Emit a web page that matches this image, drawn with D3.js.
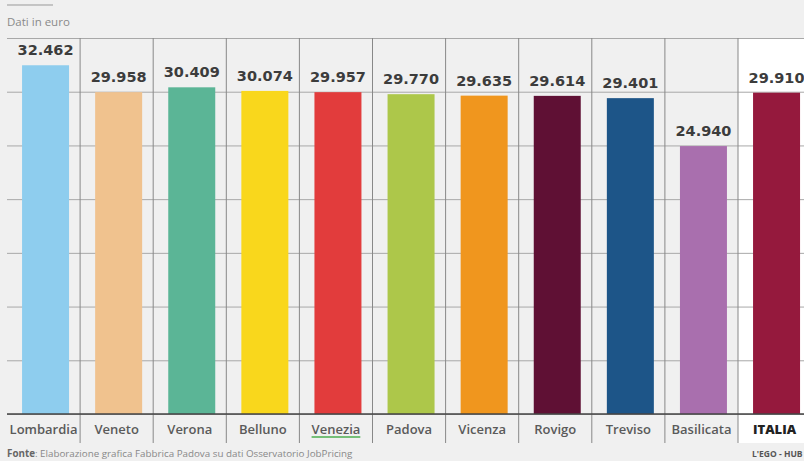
<!DOCTYPE html>
<html>
<head>
<meta charset="utf-8">
<script src="https://cdn.jsdelivr.net/npm/d3@7"></script>
<style>
  body { margin: 0; background: #f0f0f0; }
  svg { display: block; }
</style>
</head>
<body>
<div id="chart"></div>
<script>
// Data
const categories = ["Lombardia", "Veneto", "Verona", "Belluno", "Venezia", "Padova",
                    "Vicenza", "Rovigo", "Treviso", "Basilicata", "ITALIA"];
const values = [32462, 29958, 30409, 30074, 29957, 29770, 29635, 29614, 29401, 24940, 29910];
const colors = ["#8ecdee", "#f0c28e", "#5bb596", "#f9d71c", "#e23c3c", "#adc74a",
                "#f0961e", "#5f1034", "#1d5588", "#a96fae", "#95193d"];
const gridTicks = [0, 5000, 10000, 15000, 20000, 25000, 30000, 35000];

const data = categories.map((c, i) => ({ name: c, value: values[i], color: colors[i] }));

const W = 804, H = 461;
const chartLeft = 7, chartTop = 38, baseline = 414;
const step = 73.1;

const svg = d3.select("#chart").append("svg")
    .attr("width", W)
    .attr("height", H);

svg.append("rect").attr("width", W).attr("height", H).attr("fill", "#f0f0f0");

// Columns
const x = d3.scaleBand()
    .domain(categories)
    .range([chartLeft, chartLeft + step * categories.length])
    .padding(0);

const y = d3.scaleLinear()
    .domain([0, 35000])
    .range([baseline, chartTop]);

// white background behind the ITALIA column
svg.append("rect")
    .attr("x", x("ITALIA"))
    .attr("y", chartTop)
    .attr("width", x.bandwidth())
    .attr("height", 443 - chartTop)
    .attr("fill", "#ffffff");

// Horizontal grid
const grid = svg.append("g")
    .attr("transform", `translate(${chartLeft},0)`)
    .call(d3.axisLeft(y).tickValues(gridTicks).tickSize(-(W - chartLeft)).tickFormat(""));
grid.select(".domain").remove();
grid.selectAll(".tick line").attr("stroke", "#a8a8a8").attr("stroke-width", 1);

// Vertical separators
svg.selectAll(".sep")
    .data(categories.slice(1))
    .enter()
    .append("line")
    .attr("class", "sep")
    .attr("x1", d => x(d))
    .attr("x2", d => x(d))
    .attr("y1", chartTop)
    .attr("y2", 443)
    .attr("stroke", "#888")
    .attr("stroke-width", 1);

// Bars
const barW = 47;
svg.selectAll(".bar")
    .data(data)
    .enter()
    .append("rect")
    .attr("class", "bar")
    .attr("x", d => x(d.name) + (x.bandwidth() - barW) / 2 + 2)
    .attr("y", d => y(d.value))
    .attr("width", barW)
    .attr("height", d => y(0) - y(d.value))
    .attr("fill", d => d.color);

// Baseline
svg.append("line")
    .attr("x1", chartLeft).attr("x2", W)
    .attr("y1", baseline).attr("y2", baseline)
    .attr("stroke", "#444").attr("stroke-width", 1.5);

// Value labels
const fmt = v => d3.format(",")(v).replace(",", ".");
svg.selectAll(".label")
    .data(data)
    .enter()
    .append("text")
    .attr("class", "label")
    .attr("x", d => x(d.name) + x.bandwidth() / 2 + 2)
    .attr("y", d => y(d.value) - 10)
    .attr("text-anchor", "middle")
    .style("font-family", "DejaVu Sans")
    .style("font-weight", "bold")
    .style("font-size", "14.5px")
    .style("fill", "#3c3c3c")
    .text(d => fmt(d.value));

// Category labels
svg.selectAll(".cat")
    .data(data)
    .enter()
    .append("text")
    .attr("class", "cat")
    .attr("x", d => x(d.name) + x.bandwidth() / 2)
    .attr("y", 434)
    .attr("text-anchor", "middle")
    .style("font-family", "Open Sans")
    .style("font-weight", d => d.name === "ITALIA" ? 800 : 600)
    .style("font-size", "13px")
    .style("fill", d => d.name === "ITALIA" ? "#222" : "#5a5a5a")
    .text(d => d.name);

// green underline under Venezia
const vz = svg.selectAll(".cat").filter(d => d.name === "Venezia").node().getBBox();
svg.append("line")
    .attr("x1", vz.x).attr("x2", vz.x + vz.width)
    .attr("y1", 437).attr("y2", 437)
    .attr("stroke", "#4caf50").attr("stroke-width", 1.5);

// Header
svg.append("line")
    .attr("x1", 7).attr("x2", 53).attr("y1", 5).attr("y2", 5)
    .attr("stroke", "#999").attr("stroke-width", 1);
svg.append("text")
    .attr("x", 7).attr("y", 26)
    .style("font-family", "Open Sans")
    .style("font-size", "11.5px")
    .style("fill", "#8a8a8a")
    .text("Dati in euro");

// Footer
const foot = svg.append("text")
    .attr("x", 7).attr("y", 457)
    .style("font-family", "Open Sans")
    .style("font-size", "9.8px")
    .style("fill", "#888");
foot.append("tspan").style("font-weight", "bold").style("fill", "#666").text("Fonte");
foot.append("tspan").text(": Elaborazione grafica Fabbrica Padova su dati Osservatorio JobPricing");

svg.append("text")
    .attr("x", 752).attr("y", 457)
    .style("font-family", "Open Sans")
    .style("font-weight", "bold")
    .style("font-size", "8.5px")
    .style("fill", "#555")
    .text("L'EGO - HUB");
</script>
</body>
</html>
